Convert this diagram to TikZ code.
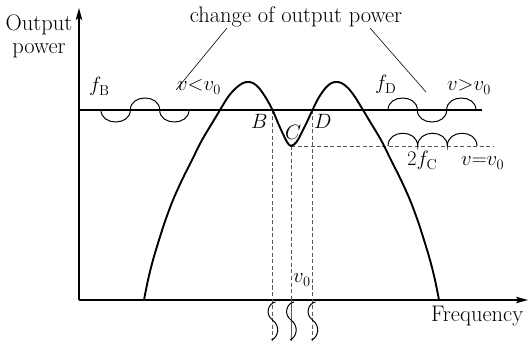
\documentclass[tikz,border=0pt]{standalone}
\usetikzlibrary{arrows.meta}
\begin{document}
\begin{tikzpicture}[x=1pt,y=-1pt,
  lbl/.style={inner sep=0pt, anchor=base west, font=\fontsize{22.5}{26}\selectfont},
  axisline/.style={line width=1.3pt, -{Stealth[length=12pt,width=6.5pt,inset=2.5pt]}},
  curveline/.style={line width=1.9pt, line join=round},
  levelline/.style={line width=1.1pt},
  waveline/.style={line width=1.0pt},
  guide/.style={line width=0.6pt, black!65, dash pattern=on 4pt off 2.5pt},
  leader/.style={line width=0.6pt}]
\useasboundingbox (0,0) rectangle (528,342);

% axes
\coordinate (O) at (79,300);
\coordinate (Ytip) at (79,8);
\coordinate (Xtip) at (528,300);
\draw[axisline] (O) -- (Ytip);
\draw[axisline] (O) -- (Xtip);

% level lines
\coordinate (Lstart) at (79,110);
\coordinate (Lend) at (482,110);
\draw[levelline] (Lstart) -- (Lend);
\coordinate (Cmin) at (291,146);
\coordinate (Dend) at (493,146);
\draw[guide] (Cmin) -- (Dend);

% guide verticals
\coordinate (B) at (272.5,110);
\coordinate (D) at (312.5,110);
\coordinate (Bbot) at (272.5,341);
\coordinate (Caxis) at (291,300);
\coordinate (Cbot) at (291,341);
\coordinate (Dbot) at (312.5,341);
\draw[guide] (B) -- (Bbot);
\draw[guide] (D) -- (Dbot);
\draw[guide] (Cmin) -- (Caxis);
\draw[line width=0.6pt, black!65] (Caxis) -- (Cbot);

% main curve
\draw[curveline] plot[smooth, tension=0.55] coordinates {
 (144,300) (148,280) (153,260) (159,240) (165.5,220) (173,200) (182,180)
 (192,160) (202,140) (214,120) (220,110) (228,97) (236,88) (243,83) (248,82)
 (253,83) (259,88) (266,98) (272.5,110) (278,123) (283,134) (287,142) (291,146)
 (296.5,142) (301,134) (306.5,123) (312.5,110) (318.5,98) (325.5,88) (331.5,83)
 (336.5,82) (341.5,83) (348,88) (355,97) (363,110) (369,120) (381,140)
 (391,160) (401,180) (410,200) (417.5,220) (424,240) (430,260) (435,280) (439,300)};

% f_B wave (trough, hump, trough)
\draw[waveline] (101,110) .. controls (101,126) and (130.33,126) .. (130.33,110)
  .. controls (130.33,94) and (159.67,94) .. (159.67,110)
  .. controls (159.67,126) and (189,126) .. (189,110);
% f_D wave (hump, trough, hump)
\draw[waveline] (388,110) .. controls (388,94) and (417.33,94) .. (417.33,110)
  .. controls (417.33,126) and (446.67,126) .. (446.67,110)
  .. controls (446.67,94) and (476,94) .. (476,110);
% 2f_C wave (three humps)
\draw[waveline] (388,146) .. controls (388,129) and (417.67,129) .. (417.67,146)
  .. controls (417.67,129) and (447.33,129) .. (447.33,146)
  .. controls (447.33,129) and (477,129) .. (477,146);

% squiggles below the axis
\foreach \sx in {272.5,291,312.5}{
  \draw[waveline] (\sx+3,302) .. controls (\sx-4,303) and (\sx-8,314) .. (\sx,320)
    .. controls (\sx+8,326) and (\sx+6,337) .. (\sx-1,340);
}

% leader lines
\coordinate (la1) at (227,28);
\coordinate (la2) at (176,90);
\coordinate (lb1) at (370,28);
\coordinate (lb2) at (426,92);
\draw[leader] (la1) -- (la2);
\draw[leader] (lb1) -- (lb2);

% labels
\node[lbl, anchor=center, align=center, font=\fontsize{22.5}{23}\selectfont]
  (outp) at (39,36) {Output\\power};
\node[lbl, anchor=base] (chg) at (296,22.5) {change of output power};
\node[lbl] (fB) at (89,92) {$f_{\mathrm{B}}$};
\node[lbl] (vlt) at (177,91) {$v{<}v_{0}$};
\node[lbl] (fD) at (375,90) {$f_{\mathrm{D}}$};
\node[lbl] (vgt) at (447,91) {$v{>}v_{0}$};
\node[lbl] (fC) at (407,166) {$2f_{\mathrm{C}}$};
\node[lbl] (veq) at (461,166) {$v{=}v_{0}$};
\node[lbl] (Blbl) at (251,129) {$B$};
\node[lbl] (Clbl) at (285,140) {$C$};
\node[lbl] (Dlbl) at (314,129) {$D$};
\node[lbl] (v0) at (293,283) {$v_{0}$};
\node[lbl] (freq) at (431,321) {Frequency};
\end{tikzpicture}
\end{document}
